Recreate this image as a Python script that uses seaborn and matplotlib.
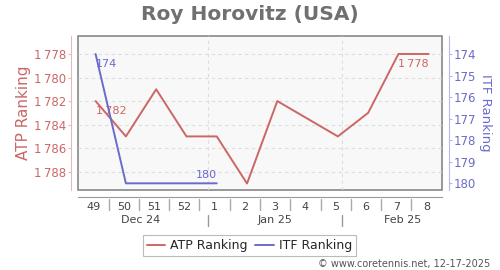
import pandas as pd
import matplotlib
matplotlib.use("Agg")
import matplotlib.pyplot as plt
import matplotlib.dates as mdates
import matplotlib.transforms as mtransforms
from matplotlib.lines import Line2D
import seaborn as sns

# ---- data ----
atp_dates = ["2024-12-06", "2024-12-13", "2024-12-20", "2024-12-27", "2025-01-03",
             "2025-01-10", "2025-01-17", "2025-01-31", "2025-02-07", "2025-02-14",
             "2025-02-21"]
atp_rank = [1782, 1785, 1781, 1785, 1785, 1789, 1782, 1785, 1783, 1778, 1778]

itf_dates = ["2024-12-06", "2024-12-13", "2024-12-20", "2024-12-27", "2025-01-03"]
itf_rank = [174, 180, 180, 180, 180]

week_starts = ["2024-12-02", "2024-12-09", "2024-12-16", "2024-12-23", "2024-12-30",
               "2025-01-06", "2025-01-13", "2025-01-20", "2025-01-27", "2025-02-03",
               "2025-02-10", "2025-02-17"]
week_labels = ["49", "50", "51", "52", "1", "2", "3", "4", "5", "6", "7", "8"]
axis_end = "2025-02-24"

month_starts = ["2024-12-01", "2025-01-01", "2025-02-01"]
month_labels = ["Dec 24", "Jan 25", "Feb 25"]

atp_ticks = [1778, 1780, 1782, 1784, 1786, 1788]
itf_ticks = [174, 175, 176, 177, 178, 179, 180]

title = "Roy Horovitz (USA)"
footer = "\u00a9 www.coretennis.net, 12-17-2025"

RED = "#cc6666"
BLUE = "#6b6bcc"


def fmt(v):
    return f"{v:,}".replace(",", "\u2009")


sns.set_style("white")
plt.rcParams["font.family"] = ["DejaVu Sans"]

fig = plt.figure(figsize=(5, 2.7), dpi=100)
AX_H = 154.3
ax = fig.add_axes([78.3 / 500, 1 - 190 / 270, 363.4 / 500, AX_H / 270])
ax2 = ax.twinx()

atp_df = pd.DataFrame({"date": pd.to_datetime(atp_dates), "rank": atp_rank})
itf_df = pd.DataFrame({"date": pd.to_datetime(itf_dates), "rank": itf_rank})

sns.lineplot(data=atp_df, x="date", y="rank", ax=ax, color=RED, lw=1.4, legend=False)
sns.lineplot(data=itf_df, x="date", y="rank", ax=ax2, color=BLUE, lw=1.4, legend=False)

ws = [mdates.date2num(pd.Timestamp(d)) for d in week_starts]
xend = mdates.date2num(pd.Timestamp(axis_end))
ax.set_xlim(ws[0], xend)
ax.set_ylim(1789.55, 1776.45)
ax2.set_ylim(180.31, 173.15)

# background / frame
ax.patch.set_facecolor("#f8f8f8")
ax.patch.set_edgecolor("#888888")
ax.patch.set_linewidth(1.2)
for s in ["top", "right"]:
    ax.spines[s].set_visible(False)
ax.spines["left"].set_position(("outward", 5))
ax.spines["left"].set_color("#e6b8b8")
ax.spines["bottom"].set_position(("outward", 5))
ax.spines["bottom"].set_color("#999999")
for s in ["top", "left", "bottom"]:
    ax2.spines[s].set_visible(False)
ax2.spines["right"].set_position(("outward", 5))
ax2.spines["right"].set_color("#b8b8e6")

ax.set_yticks(atp_ticks)
ax.set_yticklabels([fmt(v) for v in atp_ticks])
ax.tick_params(axis="y", colors="#e6b8b8", labelcolor=RED, labelsize=8.5, length=2.5, pad=1.5, left=True)
ax2.set_yticks(itf_ticks)
ax2.tick_params(axis="y", colors="#b8b8e6", labelcolor=BLUE, labelsize=8.5, length=2.5, pad=1, right=True)

# grid
ax.grid(axis="y", color="#dddddd", linestyle=(0, (3, 3)), lw=0.8)
for m in month_starts:
    mx = mdates.date2num(pd.Timestamp(m))
    if ws[0] < mx < xend:
        ax.axvline(mx, color="#dddddd", linestyle=(0, (3, 3)), lw=0.8, zorder=0.5)

# x week labels
mids = [w + 3.5 for w in ws]
ax.set_xticks(mids)
ax.set_xticklabels(week_labels)
ax.xaxis.set_minor_locator(matplotlib.ticker.NullLocator())
ax.tick_params(axis="x", length=0, pad=4, labelsize=8, labelcolor="#444444")

trans = mtransforms.blended_transform_factory(ax.transData, ax.transAxes)
for w in ws[1:]:
    ax.add_line(Line2D([w, w], [-9 / AX_H, -20 / AX_H], color="#aaaaaa", lw=1,
                       transform=trans, clip_on=False))

# month labels and separators
for m, lab in zip(month_starts, month_labels):
    t = pd.Timestamp(m)
    mx = mdates.date2num(t)
    mid = mx + t.days_in_month / 2
    ax.text(mid, -30 / AX_H, lab, transform=trans, ha="center", va="center",
            fontsize=8, color="#444444")
    if ws[0] < mx < xend:
        ax.add_line(Line2D([mx, mx], [-25 / AX_H, -36 / AX_H], color="#999999",
                           lw=1, transform=trans, clip_on=False))

# value labels
ax.annotate(fmt(atp_rank[0]), (pd.Timestamp(atp_dates[0]), atp_rank[0]), xytext=(0, -7),
            textcoords="offset points", ha="left", va="center", fontsize=8, color=RED)
ax.annotate(fmt(atp_rank[-1]), (pd.Timestamp(atp_dates[-1]), atp_rank[-1]), xytext=(0, -7),
            textcoords="offset points", ha="right", va="center", fontsize=8, color=RED)
ax2.annotate(str(itf_rank[0]), (pd.Timestamp(itf_dates[0]), itf_rank[0]), xytext=(0, -7),
             textcoords="offset points", ha="left", va="center", fontsize=8, color=BLUE)
ax2.annotate(str(itf_rank[-1]), (pd.Timestamp(itf_dates[-1]), itf_rank[-1]), xytext=(0, 6),
             textcoords="offset points", ha="right", va="center", fontsize=8, color=BLUE)

ax.set_xlabel("")
ax2.set_xlabel("")
ax.set_ylabel("ATP Ranking", color=RED, fontsize=11, labelpad=2)
ax2.set_ylabel("ITF Ranking", color=BLUE, fontsize=9.5, labelpad=2, rotation=270, va="bottom")

fig.text(0.5, 1 - 14 / 270, title, ha="center", va="center", fontsize=14.5,
         fontweight="bold", color="#707070")

handles = [Line2D([], [], color=RED, lw=1.4), Line2D([], [], color=BLUE, lw=1.4)]
leg = fig.legend(handles, ["ATP Ranking", "ITF Ranking"], loc="center",
                 bbox_to_anchor=(249.5 / 500, 1 - 245.5 / 270), ncol=2, frameon=True,
                 fontsize=9, handlelength=1.5, handletextpad=0.4, columnspacing=0.6,
                 borderpad=0.3, fancybox=False)
leg.get_frame().set_edgecolor("#aaaaaa")
leg.get_frame().set_linewidth(0.8)

fig.text(490 / 500, 1 - 264 / 270, footer, ha="right", va="center", fontsize=7, color="#555555")

fig.savefig("out.png", dpi=100)
